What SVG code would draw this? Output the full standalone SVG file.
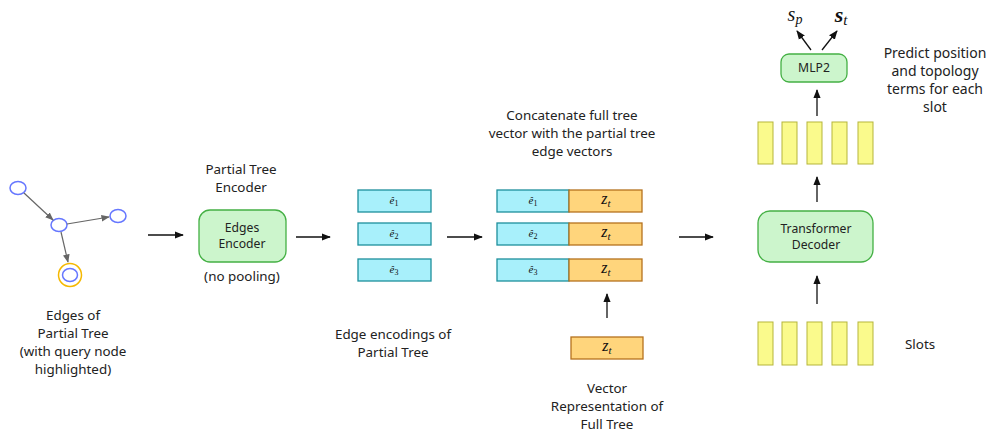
<svg xmlns="http://www.w3.org/2000/svg" width="990" height="433" viewBox="0 0 990 433">
<defs>
<marker id="ah" viewBox="0 0 10 10" refX="9" refY="5" markerWidth="7" markerHeight="7" orient="auto"><path d="M0,1 L10,5 L0,9 z" fill="#111"/></marker>
<marker id="ahg" viewBox="0 0 10 10" refX="9" refY="5" markerWidth="7" markerHeight="7" orient="auto"><path d="M0,1 L10,5 L0,9 z" fill="#666"/></marker>
<style>
.t{font-family:"Noto Sans","Open Sans",sans-serif;font-size:13.4px;fill:#222;text-anchor:middle}
.bx{font-family:"Noto Sans","Open Sans",sans-serif;font-size:12.2px;fill:#222;text-anchor:middle}
.m{font-family:"Liberation Serif","DejaVu Serif",serif;font-style:italic;fill:#111;text-anchor:middle}
.gn{fill:#fff;stroke:#6677ff;stroke-width:1.5}
.ge{stroke:#666;stroke-width:1.2;fill:none;marker-end:url(#ahg)}
.ar{stroke:#111;stroke-width:1.3;fill:none;marker-end:url(#ah)}
.green{fill:#ccf5cc;stroke:#44b044;stroke-width:1.3}
.cy{fill:#a8f0fb;stroke:#1d8f9c;stroke-width:1.3}
.or{fill:#ffd57c;stroke:#b5721e;stroke-width:1.3}
.sl{fill:#fafa8c;stroke:#b5b53a;stroke-width:1}
</style>
</defs>
<rect width="990" height="433" fill="#fff"/>

<g id="partial-tree">
<ellipse class="gn" cx="18" cy="188" rx="8" ry="6.5"/>
<ellipse class="gn" cx="59" cy="225" rx="8" ry="6.5"/>
<ellipse class="gn" cx="118" cy="216" rx="8" ry="6.5"/>
<circle cx="70" cy="275" r="11.5" fill="#fff" stroke="#f5b800" stroke-width="1.5"/>
<ellipse class="gn" cx="70" cy="275" rx="7.5" ry="6.5"/>
<line class="ge" x1="24" y1="193" x2="53" y2="220"/>
<line class="ge" x1="67" y1="224" x2="109" y2="217"/>
<line class="ge" x1="61" y1="232" x2="68" y2="262"/>
<text class="t" x="73" y="320">Edges of</text>
<text class="t" x="73" y="338">Partial Tree</text>
<text class="t" x="73" y="356">(with query node</text>
<text class="t" x="73" y="374">highlighted)</text>
</g>

<g id="edges-encoder">
<text class="t" x="241" y="174">Partial Tree</text>
<text class="t" x="241" y="192">Encoder</text>
<rect class="green" x="199" y="210" width="87" height="52" rx="11"/>
<text class="bx" x="242" y="232">Edges</text>
<text class="bx" x="242" y="248">Encoder</text>
<text class="t" x="242" y="281">(no pooling)</text>
</g>

<g id="edge-encodings">
<rect class="cy" x="358" y="190" width="73" height="22"/>
<rect class="cy" x="358" y="223" width="73" height="22"/>
<rect class="cy" x="358" y="259" width="73" height="22"/>
<text class="m" x="394" y="204" font-size="11">ê<tspan font-size="8" font-style="normal" dy="2">1</tspan></text>
<text class="m" x="394" y="237" font-size="11">ê<tspan font-size="8" font-style="normal" dy="2">2</tspan></text>
<text class="m" x="394" y="273" font-size="11">ê<tspan font-size="8" font-style="normal" dy="2">3</tspan></text>
<text class="t" x="393" y="339">Edge encodings of</text>
<text class="t" x="393" y="357">Partial Tree</text>
</g>

<g id="concatenated">
<text class="t" x="572" y="120">Concatenate full tree</text>
<text class="t" x="572" y="138">vector with the partial tree</text>
<text class="t" x="572" y="156">edge vectors</text>
<rect class="cy" x="497" y="190" width="72" height="22"/>
<rect class="or" x="569" y="190" width="73" height="22"/>
<rect class="cy" x="497" y="223" width="72" height="22"/>
<rect class="or" x="569" y="223" width="73" height="22"/>
<rect class="cy" x="497" y="259" width="72" height="22"/>
<rect class="or" x="569" y="259" width="73" height="22"/>
<text class="m" x="533" y="204" font-size="11">ê<tspan font-size="8" font-style="normal" dy="2">1</tspan></text>
<text class="m" x="533" y="237" font-size="11">ê<tspan font-size="8" font-style="normal" dy="2">2</tspan></text>
<text class="m" x="533" y="273" font-size="11">ê<tspan font-size="8" font-style="normal" dy="2">3</tspan></text>
<text class="m" x="606" y="204" font-size="16">z<tspan font-size="11" dy="3">t</tspan></text>
<text class="m" x="606" y="237" font-size="16">z<tspan font-size="11" dy="3">t</tspan></text>
<text class="m" x="606" y="273" font-size="16">z<tspan font-size="11" dy="3">t</tspan></text>
</g>

<g id="full-tree-vector">
<rect class="or" x="571" y="337" width="72" height="22"/>
<text class="m" x="607" y="351" font-size="16">z<tspan font-size="11" dy="3">t</tspan></text>
<text class="t" x="607" y="393">Vector</text>
<text class="t" x="607" y="411">Representation of</text>
<text class="t" x="607" y="429">Full Tree</text>
</g>

<g id="slots">
<rect class="sl" x="758" y="322" width="15" height="43"/>
<rect class="sl" x="782" y="322" width="15" height="43"/>
<rect class="sl" x="807" y="322" width="15" height="43"/>
<rect class="sl" x="832" y="322" width="15" height="43"/>
<rect class="sl" x="858" y="322" width="15" height="43"/>
<text class="t" x="905" y="349" style="text-anchor:start">Slots</text>
</g>

<g id="transformer-decoder">
<rect class="green" x="758" y="211" width="115" height="51" rx="12"/>
<text class="bx" x="816" y="233">Transformer</text>
<text class="bx" x="816" y="249">Decoder</text>
</g>

<g id="decoded-slots">
<rect class="sl" x="758" y="122" width="15" height="42"/>
<rect class="sl" x="782" y="122" width="15" height="42"/>
<rect class="sl" x="807" y="122" width="15" height="42"/>
<rect class="sl" x="832" y="122" width="15" height="42"/>
<rect class="sl" x="858" y="122" width="15" height="42"/>
</g>

<g id="mlp2">
<rect class="green" x="781" y="54" width="66" height="28" rx="8"/>
<text class="bx" x="814" y="72">MLP2</text>
<text class="m" x="795" y="21" font-size="20">s<tspan font-size="14" dy="3">p</tspan></text>
<text class="m" x="841" y="22" font-size="22" font-weight="bold">s<tspan font-size="15" font-weight="normal" dy="3">t</tspan></text>
<text class="t" x="935" y="58" style="font-size:14px">Predict position</text>
<text class="t" x="935" y="76" style="font-size:14px">and topology</text>
<text class="t" x="935" y="94" style="font-size:14px">terms for each</text>
<text class="t" x="935" y="112" style="font-size:14px">slot</text>
</g>

<g id="connectors">
<line class="ar" x1="148" y1="235" x2="183" y2="235"/>
<line class="ar" x1="296" y1="237" x2="330" y2="237"/>
<line class="ar" x1="447" y1="237" x2="482" y2="237"/>
<line class="ar" x1="679" y1="237" x2="713" y2="237"/>
<line class="ar" x1="607" y1="318" x2="607" y2="294"/>
<line class="ar" x1="817" y1="304" x2="817" y2="276"/>
<line class="ar" x1="817" y1="202" x2="817" y2="177"/>
<line class="ar" x1="817" y1="116" x2="817" y2="90"/>
<line class="ar" x1="811" y1="50" x2="797" y2="31"/>
<line class="ar" x1="822" y1="50" x2="837" y2="31"/>
</g>
</svg>
